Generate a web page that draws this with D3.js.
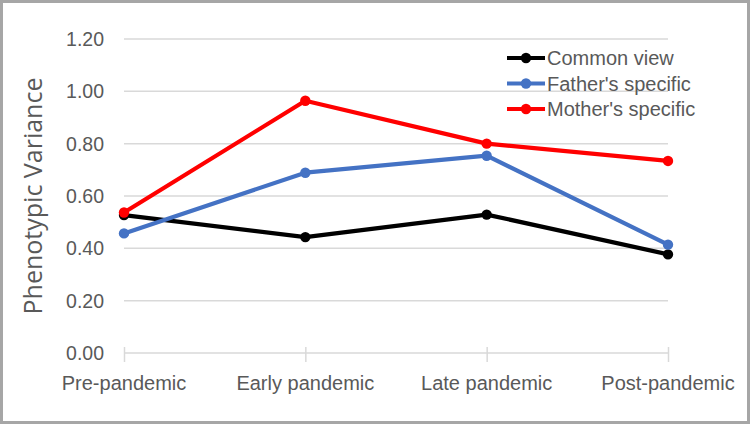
<!DOCTYPE html>
<html>
<head>
<meta charset="utf-8">
<script src="https://cdn.jsdelivr.net/npm/d3@7"></script>
<style>
  body { margin: 0; background: #fff; }
  svg { display: block; }
</style>
</head>
<body>
<script>
const categories = ["Pre-pandemic", "Early pandemic", "Late pandemic", "Post-pandemic"];
const commonView = [0.527, 0.443, 0.529, 0.377];
const fathersSpecific = [0.457, 0.689, 0.754, 0.414];
const mothersSpecific = [0.537, 0.964, 0.800, 0.734];
const yTicks = [0, 0.2, 0.4, 0.6, 0.8, 1.0, 1.2];

const series = [
  { name: "Common view", values: commonView, color: "#000000" },
  { name: "Father's specific", values: fathersSpecific, color: "#4472C4" },
  { name: "Mother's specific", values: mothersSpecific, color: "#FF0000" }
];

const w = 750, h = 424;
const plotLeft = 124, plotRight = 668, plotTop = 39, plotBottom = 353;
const textColor = "#595959";
const labelFont = "'Liberation Sans', Arial, sans-serif";

const svg = d3.select("body").append("svg")
  .attr("width", w)
  .attr("height", h);

// frame
svg.append("rect")
  .attr("x", 1.5).attr("y", 1.5)
  .attr("width", w - 3).attr("height", h - 3)
  .attr("fill", "#fff")
  .attr("stroke", "#a6a6a6")
  .attr("stroke-width", 3);

const xScale = d3.scalePoint()
  .domain(categories)
  .range([plotLeft, plotRight]);

const yScale = d3.scaleLinear()
  .domain([0, 1.2])
  .range([plotBottom, plotTop]);

// gridlines
svg.append("g")
  .selectAll("line")
  .data(yTicks.filter(d => d > 0))
  .enter()
  .append("line")
  .attr("x1", plotLeft)
  .attr("x2", plotRight)
  .attr("y1", d => yScale(d))
  .attr("y2", d => yScale(d))
  .attr("stroke", "#d9d9d9")
  .attr("stroke-width", 1.5);

// y tick labels
svg.append("g")
  .selectAll("text")
  .data(yTicks)
  .enter()
  .append("text")
  .attr("x", 104)
  .attr("y", d => yScale(d))
  .attr("dy", "0.36em")
  .attr("text-anchor", "end")
  .attr("font-family", labelFont)
  .attr("font-size", 19.5)
  .attr("fill", textColor)
  .text(d => d.toFixed(2));

// x axis
const xAxis = d3.axisBottom(xScale).tickSize(9).tickSizeOuter(0).tickFormat("");
const xg = svg.append("g")
  .attr("transform", `translate(0, ${plotBottom})`)
  .call(xAxis);
xg.select(".domain").remove();
xg.selectAll(".tick line")
  .attr("y1", -6)
  .attr("y2", 9)
  .attr("stroke", "#d9d9d9")
  .attr("stroke-width", 1.5);
svg.append("line")
  .attr("x1", plotLeft).attr("x2", plotRight)
  .attr("y1", plotBottom).attr("y2", plotBottom)
  .attr("stroke", "#d9d9d9")
  .attr("stroke-width", 1.5);

svg.append("g")
  .selectAll("text")
  .data(categories)
  .enter()
  .append("text")
  .attr("x", d => xScale(d))
  .attr("y", 390)
  .attr("text-anchor", "middle")
  .attr("font-family", labelFont)
  .attr("font-size", 20)
  .attr("fill", textColor)
  .text(d => d);

// y title
svg.append("text")
  .attr("transform", "translate(42, 196) rotate(-90)")
  .attr("text-anchor", "middle")
  .attr("font-family", "'Open Sans', sans-serif")
  .attr("font-size", 25)
  .attr("fill", textColor)
  .text("Phenotypic Variance");

// lines
const line = d3.line()
  .x((d, i) => xScale(categories[i]))
  .y(d => yScale(d));

series.forEach(s => {
  svg.append("path")
    .datum(s.values)
    .attr("d", line)
    .attr("fill", "none")
    .attr("stroke", s.color)
    .attr("stroke-width", 4.2)
    .attr("stroke-linejoin", "round");
  svg.append("g")
    .selectAll("circle")
    .data(s.values)
    .enter()
    .append("circle")
    .attr("cx", (d, i) => xScale(categories[i]))
    .attr("cy", d => yScale(d))
    .attr("r", 5.2)
    .attr("fill", s.color);
});

// legend
const legend = svg.append("g").attr("transform", "translate(507, 58)");
series.forEach((s, i) => {
  const g = legend.append("g").attr("transform", `translate(0, ${i * 25.5})`);
  g.append("line")
    .attr("x1", 0).attr("x2", 38)
    .attr("y1", 0).attr("y2", 0)
    .attr("stroke", s.color)
    .attr("stroke-width", 4.2);
  g.append("circle")
    .attr("cx", 19).attr("cy", 0).attr("r", 5.2)
    .attr("fill", s.color);
  g.append("text")
    .attr("x", 40)
    .attr("y", 0)
    .attr("dy", "0.36em")
    .attr("font-family", labelFont)
    .attr("font-size", 20)
    .attr("fill", textColor)
    .text(s.name);
});
</script>
</body>
</html>
